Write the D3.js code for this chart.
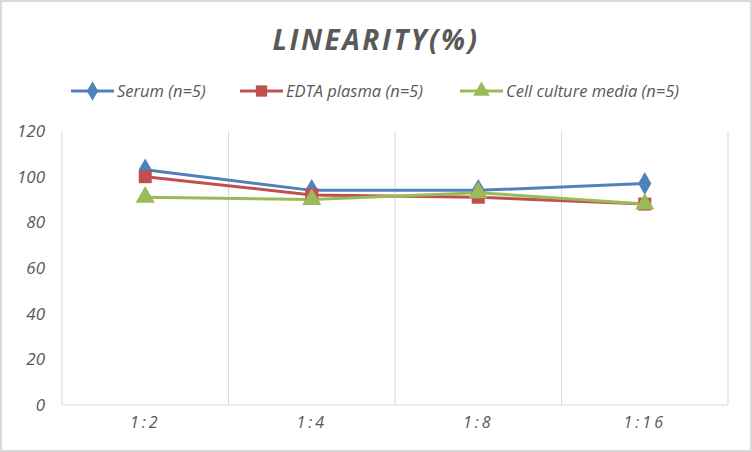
<!DOCTYPE html>
<html><head><meta charset="utf-8">
<script src="https://cdn.jsdelivr.net/npm/d3@7"></script>
<style>body{margin:0;background:#fff}svg{display:block}</style>
</head><body>
<script>
const categories = ["1:2", "1:4", "1:8", "1:16"];
const serum = [103, 94, 94, 97];
const edta = [100, 92, 91, 88];
const cell = [91, 90, 93, 88];
const seriesNames = ["Serum (n=5)", "EDTA plasma (n=5)", "Cell culture media (n=5)"];
const yTicks = [0, 20, 40, 60, 80, 100, 120];
const title = "LINEARITY(%)";

const W = 752, H = 452;
const svg = d3.select("body").append("svg").attr("width", W).attr("height", H);
svg.append("rect").attr("x",1).attr("y",1).attr("width",W-2).attr("height",H-2)
  .attr("fill","#fff").attr("stroke","#d9d9d9").attr("stroke-width",2);

const font = "'Open Sans', sans-serif";
const grey = "#595959";
const x = d3.scaleBand().domain(categories).range([62, 728]);
const y = d3.scaleLinear().domain([0, 120]).range([405, 131]);

const bounds = categories.map(c => x(c) + x.bandwidth());
svg.selectAll(".vg").data(bounds).enter().append("line")
  .attr("x1", d=>d).attr("x2", d=>d).attr("y1", y(120)).attr("y2", y(0))
  .attr("stroke","#d9d9d9").attr("stroke-width",1);
svg.append("line").attr("x1",62).attr("x2",62).attr("y1",y(120)).attr("y2",y(0)).attr("stroke","#d9d9d9");
svg.append("line").attr("x1",62).attr("x2",728).attr("y1",y(0)).attr("y2",y(0)).attr("stroke","#d9d9d9");

const yAxis = d3.axisLeft(y).tickValues(yTicks).tickSize(0).tickPadding(17);
const gy = svg.append("g").attr("transform","translate(62,0)").call(yAxis);
gy.select(".domain").remove();
gy.selectAll("text").attr("font-family",font).attr("font-style","italic")
  .attr("font-size",17).attr("fill",grey);

const xAxis = d3.axisBottom(x).tickSize(0).tickPadding(12);
const gx = svg.append("g").attr("transform",`translate(0,${y(0)})`).call(xAxis);
gx.select(".domain").remove();
gx.selectAll("text").attr("font-family",font).attr("font-style","italic")
  .attr("font-size",16).attr("fill",grey).attr("letter-spacing",3);

svg.append("text").attr("x", 376).attr("y", 50).attr("text-anchor","middle")
  .attr("font-family",font).attr("font-weight","bold").attr("font-style","italic")
  .attr("font-size",28).attr("letter-spacing",2.5).attr("fill",grey).text(title);

const colors = ["#4F81BD", "#C0504D", "#9BBB59"];
const shapes = [d3.symbolDiamond, d3.symbolSquare, d3.symbolTriangle];
const sizes = [150, 170, 160];
const data = [serum, edta, cell];
const cx = c => x(c) + x.bandwidth()/2;
const line = d3.line().x((d,i)=>cx(categories[i])).y(d=>y(d));

data.forEach((vals, k) => {
  svg.append("path").datum(vals).attr("d", line).attr("fill","none")
    .attr("stroke", colors[k]).attr("stroke-width", 3).attr("stroke-linejoin","round");
});
data.forEach((vals, k) => {
  svg.selectAll(".m"+k).data(vals).enter().append("path")
    .attr("transform",(d,i)=>`translate(${cx(categories[i])},${y(d)})`)
    .attr("d", d3.symbol().type(shapes[k]).size(sizes[k]))
    .attr("fill", colors[k]);
});

const legX = [71, 240, 460];
seriesNames.forEach((name, k) => {
  const g = svg.append("g").attr("transform",`translate(${legX[k]},91)`);
  g.append("line").attr("x1",0).attr("x2",43).attr("stroke",colors[k]).attr("stroke-width",3);
  g.append("path").attr("transform","translate(21.5,0)")
    .attr("d", d3.symbol().type(shapes[k]).size(sizes[k]*0.75)).attr("fill",colors[k]);
  g.append("text").attr("x",46).attr("y",6).attr("font-family",font).attr("font-style","italic")
    .attr("font-size",16.5).attr("fill",grey).text(name);
});
</script>
</body></html>
